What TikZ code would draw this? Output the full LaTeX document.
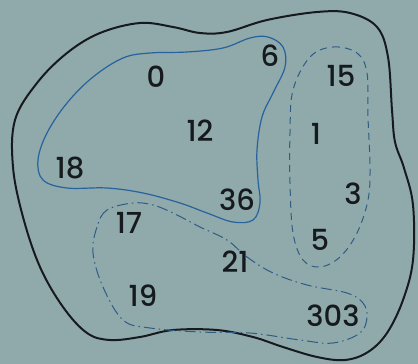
\documentclass[tikz,border=0pt]{standalone}
\usepackage{fontspec}
\setmainfont{Poppins}[UprightFont=* Medium]
\usepackage{tikz}
\definecolor{paper}{RGB}{144,170,171}
\definecolor{inkblue}{RGB}{38,98,158}
\definecolor{dashblue}{RGB}{48,92,132}
\definecolor{ink}{RGB}{22,26,30}

\begin{document}
\begin{tikzpicture}[x=1pt,y=-1pt,
    num/.style={text=ink, font=\fontsize{29}{32}\selectfont, inner sep=0pt},
    outerset/.style={draw=ink, line width=2pt},
    evenset/.style={draw=inkblue, line width=1.2pt},
    oddset/.style={draw=dashblue, line width=1pt, dash pattern=on 7pt off 5pt},
    restset/.style={draw=dashblue, line width=1pt, dash pattern=on 11pt off 4pt on 1.5pt off 4pt}]
    % Background
    \fill[paper] (0,0) rectangle (418,364);
    \useasboundingbox (0,0) rectangle (418,364);
    % Universe
    \draw[outerset] plot[smooth cycle, tension=0.6] coordinates {
      (15,120) (37,83) (67,53) (100,33) (140,23) (173,27) (200,33) (227,32)
      (267,20) (317,12) (350,13) (377,27) (388,57) (392,110) (395,142)
      (404,168) (413,205) (413,260) (403,300) (387,333) (368,352) (345,360)
      (317,357) (283,347) (253,337) (217,330) (173,330) (140,337) (110,340)
      (87,333) (63,307) (40,267) (23,217) (13,167)};
    % Solid set
    \draw[evenset] plot[smooth cycle, tension=0.6] coordinates {
      (268,37) (283,47) (285,67) (273,93) (262,117) (257,150) (258,180)
      (260,203) (253,220) (233,222) (207,213) (180,203) (143,193) (107,188)
      (67,188) (43,180) (38,160) (47,133) (67,103) (93,77) (123,58)
      (150,53) (187,52) (223,48) (250,38)};
    % Dashed set
    \draw[oddset] plot[smooth cycle, tension=0.6] coordinates {
      (310,57) (333,47) (357,53) (367,73) (368,117) (370,167) (368,200)
      (357,233) (340,257) (320,267) (303,260) (293,233) (290,183)
      (290,133) (293,90)};
    % Dash-dot set
    \draw[restset] plot[smooth cycle, tension=0.6] coordinates {
      (133,203) (107,210) (97,227) (93,253) (103,287) (123,320) (150,328)
      (200,332) (250,333) (300,340) (333,343) (360,333) (367,317) (363,303)
      (347,293) (307,285) (273,273) (247,257) (227,240) (200,227)
      (173,213) (153,205)};
    % Numbers
    \node[num] (n0) at (156,77) {0};
    \node[num] (n6) at (270,56) {6};
    \node[num] (n12) at (200,131) {12};
    \node[num] (n18) at (70,168) {18};
    \node[num] (n36) at (237,200) {36};
    \node[num] (n15) at (341,76) {15};
    \node[num] (n1) at (316,134) {1};
    \node[num] (n3) at (353,194) {3};
    \node[num] (n5) at (320,240) {5};
    \node[num] (n17) at (129,223) {17};
    \node[num] (n21) at (235,262) {21};
    \node[num] (n19) at (143,296) {19};
    \node[num] (n303) at (333,316) {303};
\end{tikzpicture}
\end{document}
